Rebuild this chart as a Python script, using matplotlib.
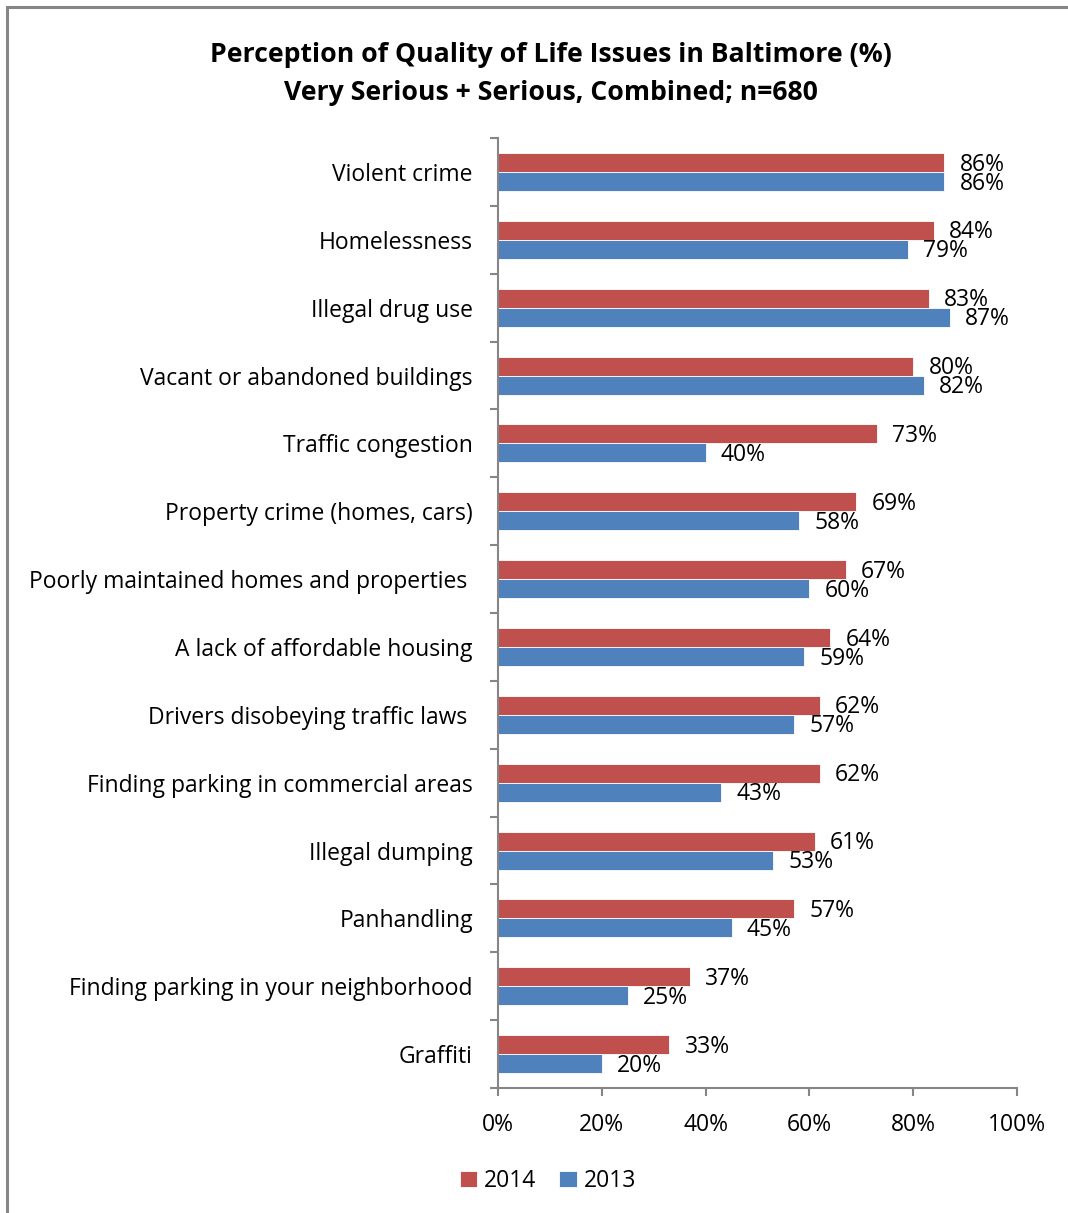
import numpy as np
import matplotlib.pyplot as plt
from matplotlib.patches import Rectangle


categories = ['Violent crime', 'Homelessness', 'Illegal drug use',
              'Vacant or abandoned buildings', 'Traffic congestion',
              'Property crime (homes, cars)',
              'Poorly maintained homes and properties ',
              'A lack of affordable housing',
              'Drivers disobeying traffic laws ',
              'Finding parking in commercial areas', 'Illegal dumping',
              'Panhandling', 'Finding parking in your neighborhood', 'Graffiti']
vals_2014 = [86, 84, 83, 80, 73, 69, 67, 64, 62, 62, 61, 57, 37, 33]
vals_2013 = [86, 79, 87, 82, 40, 58, 60, 59, 57, 43, 53, 45, 25, 20]
xticks = [0, 20, 40, 60, 80, 100]

RED = '#C0504D'
BLUE = '#4F81BD'
GRAY = '#868686'

plt.rcParams['font.family'] = ['Open Sans', 'DejaVu Sans']

W, H = 1068, 1213
fig = plt.figure(figsize=[W / 100, H / 100], dpi=100)

# outer frame (runs off the right / bottom edge)
fig.patches.append(Rectangle((6.5 / W, -0.1), 2.0, 1.1 - 6.5 / H,
                             transform=fig.transFigure, fill=False,
                             edgecolor=GRAY, linewidth=2.2))

ax = fig.add_axes([498 / W, 1 - 1088 / H, (1017 - 498) / W, (1088 - 138) / H])

n = len(categories)
y = np.arange(n)[::-1].astype(float)
bh = 0.28

ax.barh(y + bh / 2, vals_2014, height=bh, color=RED, edgecolor='white', linewidth=0.6, label='2014')
ax.barh(y - bh / 2, vals_2013, height=bh, color=BLUE, edgecolor='white', linewidth=0.6, label='2013')

for yi, v in zip(y, vals_2014):
    ax.annotate(f'{v}%', (v, yi + bh / 2), xytext=(11, -1.5), textcoords='offset points',
                va='center', ha='left', fontsize=16.5)
for yi, v in zip(y, vals_2013):
    ax.annotate(f'{v}%', (v, yi - bh / 2), xytext=(11, -1.5), textcoords='offset points',
                va='center', ha='left', fontsize=16.5)

ax.set_xlim(0, 100)
ax.set_ylim(-0.5, n - 0.5)
ax.set_xticks(xticks)
ax.set_xticklabels([f'{t}%' for t in xticks], fontsize=16.5)
ax.set_yticks(y)
ax.set_yticklabels(categories, fontsize=16.5)
ax.set_yticks(np.arange(n + 1) - 0.5, minor=True)
ax.tick_params(axis='y', which='major', length=0, pad=18)
ax.tick_params(axis='y', which='minor', length=6, width=1.5, color=GRAY)
ax.tick_params(axis='x', length=6, width=1.5, color=GRAY, pad=12)

for s in ['top', 'right']:
    ax.spines[s].set_visible(False)
for s in ['left', 'bottom']:
    ax.spines[s].set_color(GRAY)
    ax.spines[s].set_linewidth(1.5)

fig.text(551 / W, 1 - 55 / H, 'Perception of Quality of Life Issues in Baltimore (%)',
         ha='center', va='center', fontsize=19.2, fontweight='bold')
fig.text(551 / W, 1 - 93 / H, 'Very Serious + Serious, Combined; n=680',
         ha='center', va='center', fontsize=19.2, fontweight='bold')

fig.legend(loc='center', bbox_to_anchor=(548 / W, 1 - 1181 / H), ncol=2, frameon=False,
           fontsize=16.5, handlelength=0.75, handleheight=0.75, handletextpad=0.3,
           columnspacing=1.0)

plt.savefig('out.png', dpi=100)
